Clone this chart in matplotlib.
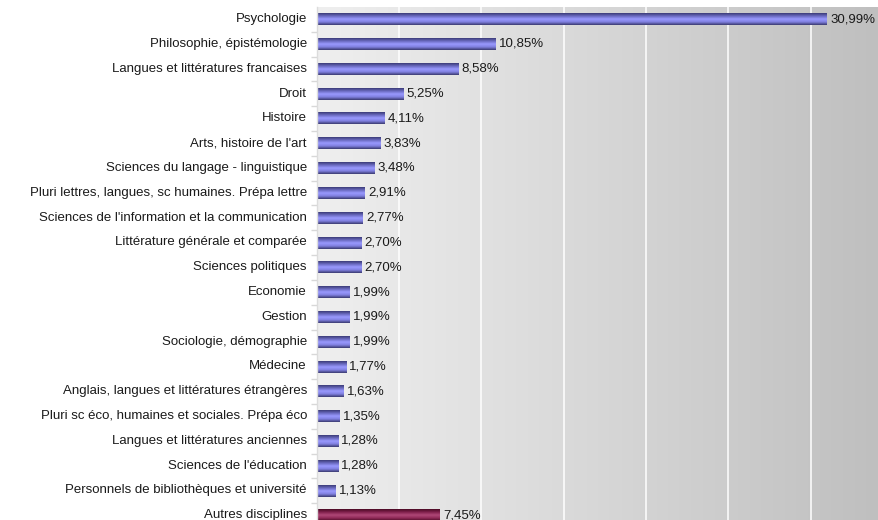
import matplotlib.pyplot as plt
import numpy as np
from matplotlib.colors import LinearSegmentedColormap
from matplotlib.transforms import ScaledTranslation

plt.rcParams['font.family'] = ['Liberation Sans', 'DejaVu Sans']

disciplines = [
    "Psychologie",
    "Philosophie, épistémologie",
    "Langues et littératures francaises",
    "Droit",
    "Histoire",
    "Arts, histoire de l'art",
    "Sciences du langage - linguistique",
    "Pluri lettres, langues, sc humaines. Prépa lettre",
    "Sciences de l'information et la communication",
    "Littérature générale et comparée",
    "Sciences politiques",
    "Economie",
    "Gestion",
    "Sociologie, démographie",
    "Médecine",
    "Anglais, langues et littératures étrangères",
    "Pluri sc éco, humaines et sociales. Prépa éco",
    "Langues et littératures anciennes",
    "Sciences de l'éducation",
    "Personnels de bibliothèques et université",
    "Autres disciplines",
]
parts = [30.99, 10.85, 8.58, 5.25, 4.11, 3.83, 3.48, 2.91, 2.77, 2.70, 2.70,
         1.99, 1.99, 1.99, 1.77, 1.63, 1.35, 1.28, 1.28, 1.13, 7.45]

FS = 9.5

# cylinder-like shading across the bar thickness
blue = LinearSegmentedColormap.from_list(
    "blue", ["#3c3c78", "#6a6ac0", "#9a9aff", "#8080e0", "#3a3a70"])
maroon = LinearSegmentedColormap.from_list(
    "maroon", ["#4a0a24", "#80204c", "#b04878", "#902a58", "#4a0a24"])

fig = plt.figure(figsize=(8.79, 5.20), dpi=100)
ax = fig.add_axes([317 / 879, -8 / 520, 1 - 317 / 879, 521 / 520])

n = len(parts)
ax.set_xlim(0, 562 / 16.45)
ax.set_ylim(n - 0.5, -0.5)

# background: light on the left, grey on the right
bg = np.linspace(0, 1, 256).reshape(1, -1)
bg_cmap = LinearSegmentedColormap.from_list("bg", ["#efefef", "#bfbfbf"])
ax.imshow(bg, cmap=bg_cmap, aspect="auto", extent=(0, 1, 0, 1),
          transform=ax.transAxes, zorder=0)

for x in range(5, 35, 5):
    ax.axvline(x, color="white", lw=1.1, zorder=1)

# value labels right of the bars, category names left of the axis
val_shift = ScaledTranslation(0, 0.3 / 100, fig.dpi_scale_trans)
cat_shift = ScaledTranslation(-10 / 100, 0.3 / 100, fig.dpi_scale_trans)

h = 0.47
grad = np.linspace(0, 1, 64).reshape(-1, 1)
for i, (name, v) in enumerate(zip(disciplines, parts)):
    cmap = maroon if i == n - 1 else blue
    ax.imshow(grad, cmap=cmap, aspect="auto",
              extent=(0, v, i + h / 2, i - h / 2), zorder=2,
              interpolation="bilinear")
    ax.text(v + 0.2, i, f"{v:.2f}%".replace(".", ","), va="center",
            ha="left", fontsize=FS, color="#1a1a1a", zorder=3,
            transform=ax.transData + val_shift)
    ax.text(0, i, name, va="center", ha="right", fontsize=FS,
            color="#1a1a1a", transform=ax.get_yaxis_transform() + cat_shift,
            clip_on=False)

ax.set_yticks(np.arange(0.5, n, 1))
ax.set_yticklabels([])
ax.tick_params(axis="y", length=4, color="#d8d8d8", width=1)
ax.set_xticks([])

for side in ["top", "right", "bottom"]:
    ax.spines[side].set_visible(False)
ax.spines["left"].set_color("#dcdcdc")
ax.spines["left"].set_linewidth(1)

fig.savefig("out.png", dpi=100)
